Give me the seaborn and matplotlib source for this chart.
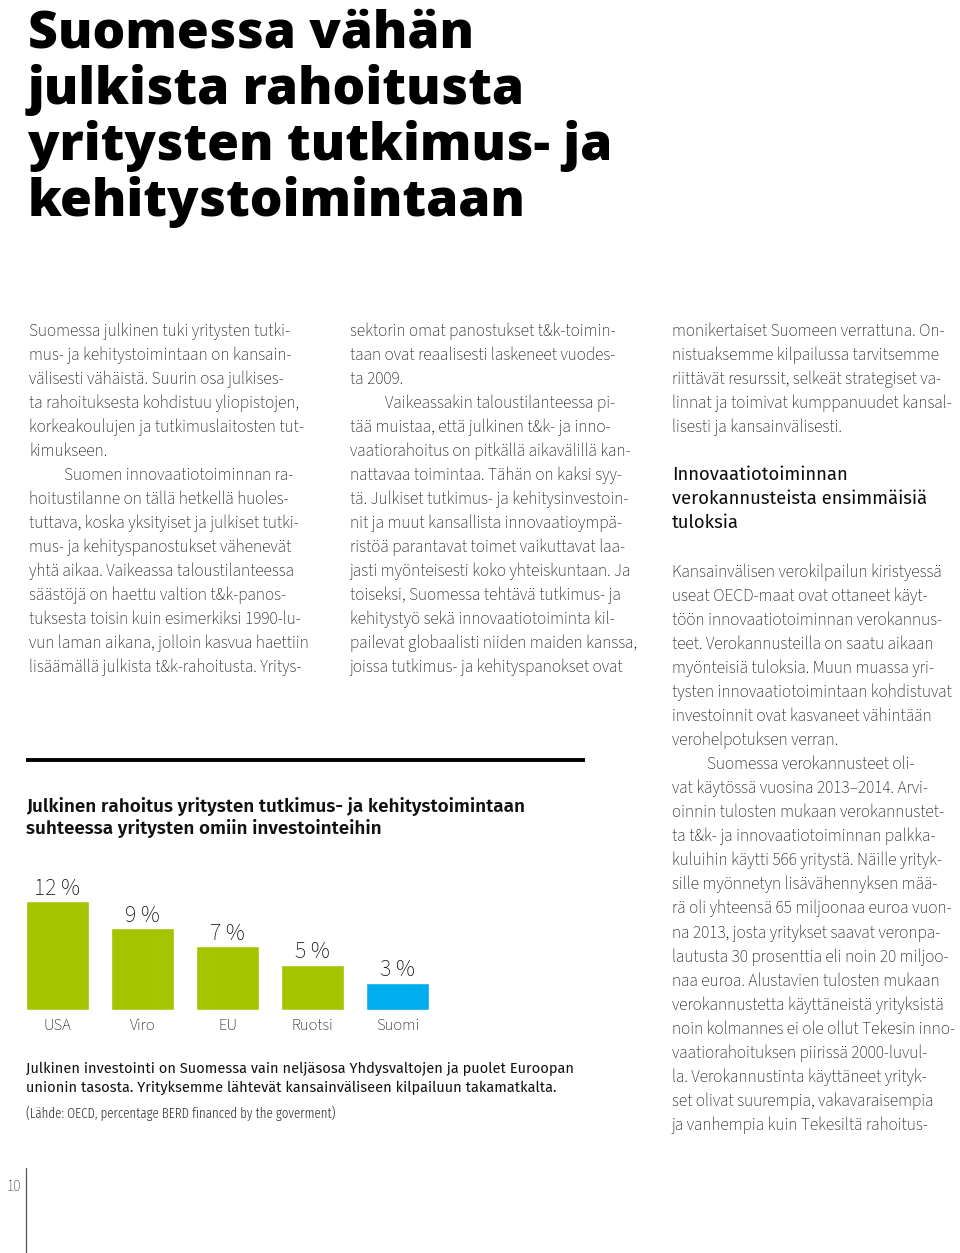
import matplotlib
matplotlib.use("Agg")
import matplotlib.pyplot as plt
from matplotlib.lines import Line2D
import seaborn as sns
import pandas as pd

# ---------------- data ----------------
categories = ["USA", "Viro", "EU", "Ruotsi", "Suomi"]
values = [12, 9, 7, 5, 3]
value_labels = ["12 %", "9 %", "7 %", "5 %", "3 %"]
bar_colors = ["#A4C400", "#A4C400", "#A4C400", "#A4C400", "#00AEEF"]

title_lines = ["Suomessa vähän", "julkista rahoitusta", "yritysten tutkimus- ja", "kehitystoimintaan"]
chart_title_lines = ["Julkinen rahoitus yritysten tutkimus- ja kehitystoimintaan",
                     "suhteessa yritysten omiin investointeihin"]
caption_lines = ["Julkinen investointi on Suomessa vain neljäsosa Yhdysvaltojen ja puolet Euroopan",
                 "unionin tasosta. Yrityksemme lähtevät kansainväliseen kilpailuun takamatkalta."]
source_line = "(Lähde: OECD, percentage BERD financed by the goverment)"

col1_lines = [
    "Suomessa julkinen tuki yritysten tutki-",
    "mus- ja kehitystoimintaan on kansain-",
    "välisesti vähäistä. Suurin osa julkises-",
    "ta rahoituksesta kohdistuu yliopistojen,",
    "korkeakoulujen ja tutkimuslaitosten tut-",
    "kimukseen.",
    "Suomen innovaatiotoiminnan ra-",
    "hoitustilanne on tällä hetkellä huoles-",
    "tuttava, koska yksityiset ja julkiset tutki-",
    "mus- ja kehityspanostukset vähenevät",
    "yhtä aikaa. Vaikeassa taloustilanteessa",
    "säästöjä on haettu valtion t&k-panos-",
    "tuksesta toisin kuin esimerkiksi 1990-lu-",
    "vun laman aikana, jolloin kasvua haettiin",
    "lisäämällä julkista t&k-rahoitusta. Yritys-",
]
col1_indent = [6]
col2_lines = [
    "sektorin omat panostukset t&k-toimin-",
    "taan ovat reaalisesti laskeneet vuodes-",
    "ta 2009.",
    "Vaikeassakin taloustilanteessa pi-",
    "tää muistaa, että julkinen t&k- ja inno-",
    "vaatiorahoitus on pitkällä aikavälillä kan-",
    "nattavaa toimintaa. Tähän on kaksi syy-",
    "tä. Julkiset tutkimus- ja kehitysinvestoin-",
    "nit ja muut kansallista innovaatioympä-",
    "ristöä parantavat toimet vaikuttavat laa-",
    "jasti myönteisesti koko yhteiskuntaan. Ja",
    "toiseksi, Suomessa tehtävä tutkimus- ja",
    "kehitystyö sekä innovaatiotoiminta kil-",
    "pailevat globaalisti niiden maiden kanssa,",
    "joissa tutkimus- ja kehityspanokset ovat",
]
col2_indent = [3]
col3a_lines = [
    "monikertaiset Suomeen verrattuna. On-",
    "nistuaksemme kilpailussa tarvitsemme",
    "riittävät resurssit, selkeät strategiset va-",
    "linnat ja toimivat kumppanuudet kansal-",
    "lisesti ja kansainvälisesti.",
]
heading_lines = ["Innovaatiotoiminnan", "verokannusteista ensimmäisiä", "tuloksia"]
col3b_lines = [
    "Kansainvälisen verokilpailun kiristyessä",
    "useat OECD-maat ovat ottaneet käyt-",
    "töön innovaatiotoiminnan verokannus-",
    "teet. Verokannusteilla on saatu aikaan",
    "myönteisiä tuloksia. Muun muassa yri-",
    "tysten innovaatiotoimintaan kohdistuvat",
    "investoinnit ovat kasvaneet vähintään",
    "verohelpotuksen verran.",
    "Suomessa verokannusteet oli-",
    "vat käytössä vuosina 2013–2014. Arvi-",
    "oinnin tulosten mukaan verokannustet-",
    "ta t&k- ja innovaatiotoiminnan palkka-",
    "kuluihin käytti 566 yritystä. Näille yrityk-",
    "sille myönnetyn lisävähennyksen mää-",
    "rä oli yhteensä 65 miljoonaa euroa vuon-",
    "na 2013, josta yritykset saavat veronpa-",
    "lautusta 30 prosenttia eli noin 20 miljoo-",
    "naa euroa. Alustavien tulosten mukaan",
    "verokannustetta käyttäneistä yrityksistä",
    "noin kolmannes ei ole ollut Tekesin inno-",
    "vaatiorahoituksen piirissä 2000-luvul-",
    "la. Verokannustinta käyttäneet yrityk-",
    "set olivat suurempia, vakavaraisempia",
    "ja vanhempia kuin Tekesiltä rahoitus-",
]
col3b_indent = [8]
page_number = "10"

# ---------------- style ----------------
sns.set_theme(style="white")
BODY = ["Source Sans 3", "Source Sans Pro", "Fira Sans", "Lato", "DejaVu Sans"]
HEADLINE = ["Open Sans", "Inter", "Fira Sans", "DejaVu Sans"]
SEMI = ["Fira Sans", "Lato", "Open Sans", "DejaVu Sans"]
COND = ["Fira Sans Extra Condensed", "Fira Sans Condensed", "Roboto Condensed", "Liberation Sans Narrow", "DejaVu Sans"]
plt.rcParams["font.family"] = BODY

W, H = 960, 1253
fig = plt.figure(figsize=(W / 100, H / 100), dpi=100)
fig.patch.set_facecolor("white")
renderer = fig.canvas.get_renderer()


def fx(x):
    return x / W


def fy(y):
    return 1 - y / H


def fit_size(text, target, family, weight, base=20.0):
    t = fig.text(0, 0, text, fontsize=base, family=family, weight=weight)
    w = t.get_window_extent(renderer).width
    t.remove()
    return base * target / w


# ---------------- headline ----------------
ts = fit_size(title_lines[0], 446, HEADLINE, 800)
for i, line in enumerate(title_lines):
    fig.text(fx(28), fy(48 + 56 * i), line, fontsize=ts, family=HEADLINE, weight=800,
             color="black", va="baseline", ha="left")

# ---------------- body columns ----------------
bs = fit_size(col1_lines[4], 276, BODY, 300)
LS = 24.05
INDENT = 35
body_color = "#080808"


def column(lines, x0, y0, indents):
    for i, line in enumerate(lines):
        x = x0 + (INDENT if i in indents else 0)
        fig.text(fx(x), fy(y0 + LS * i), line, fontsize=bs, family=BODY, weight=300,
                 color=body_color, va="center", ha="left")


column(col1_lines, 29, 331, col1_indent)
column(col2_lines, 350, 331, col2_indent)
column(col3a_lines, 672, 331, [])
column(col3b_lines, 672, 572, col3b_indent)

hs = fit_size(heading_lines[1], 256, SEMI, 400)
for i, line in enumerate(heading_lines):
    fig.text(fx(672), fy(475 + 24 * i), line, fontsize=hs, family=SEMI, weight=400,
             color="#0d0d0d", va="center", ha="left")

# ---------------- chart block ----------------
fig.add_artist(Line2D([fx(26), fx(585)], [fy(760), fy(760)], lw=2.8, color="black",
                      solid_capstyle="butt"))

cs = fit_size(chart_title_lines[0], 497, SEMI, 600)
for i, line in enumerate(chart_title_lines):
    fig.text(fx(26), fy(806 + 23 * i), line, fontsize=cs, family=SEMI, weight=600,
             color="#111111", va="center", ha="left")

df = pd.DataFrame({"maa": categories, "osuus": values})
px_per_unit = 9.08
ax = fig.add_axes([fx(15), fy(1010), 425 / W, 14 * px_per_unit / H])
sns.barplot(data=df, x="maa", y="osuus", hue="maa",
            palette=dict(zip(categories, bar_colors)), width=0.74, saturation=1,
            legend=False, ax=ax)
ax.set_xlim(-0.5, 4.5)
ax.set_ylim(0, 14)
ax.set_xlabel("")
ax.set_ylabel("")
ax.set_yticks([])
ax.patch.set_alpha(0)
for s in ax.spines.values():
    s.set_visible(False)
ax.tick_params(axis="x", length=0, pad=6, labelsize=12, labelcolor="#080808")
for lab in ax.get_xticklabels():
    lab.set_family(BODY)
    lab.set_fontsize(12)
for cont, lab in zip(ax.containers, value_labels):
    ax.bar_label(cont, labels=[lab], padding=1.0, fontsize=17, family=BODY,
                 color="#080808", clip_on=False)

caps = fit_size(caption_lines[0], 547, SEMI, 400)
for i, line in enumerate(caption_lines):
    fig.text(fx(26), fy(1069 + 19 * i), line, fontsize=caps, family=SEMI, weight=400,
             color="#111111", va="center", ha="left")

ss = fit_size(source_line, 309, COND, 300)
fig.text(fx(26), fy(1113), source_line, fontsize=ss, family=COND, weight=300,
         color="#333333", va="center", ha="left")

# ---------------- folio ----------------
fig.text(fx(7), fy(1187), page_number, fontsize=11, family=BODY,
         color="#333333", va="center", ha="left")
fig.add_artist(Line2D([fx(26), fx(26)], [fy(1168), fy(1253)], lw=0.9, color="#555555"))

fig.savefig("out.png", dpi=100, facecolor="white")
